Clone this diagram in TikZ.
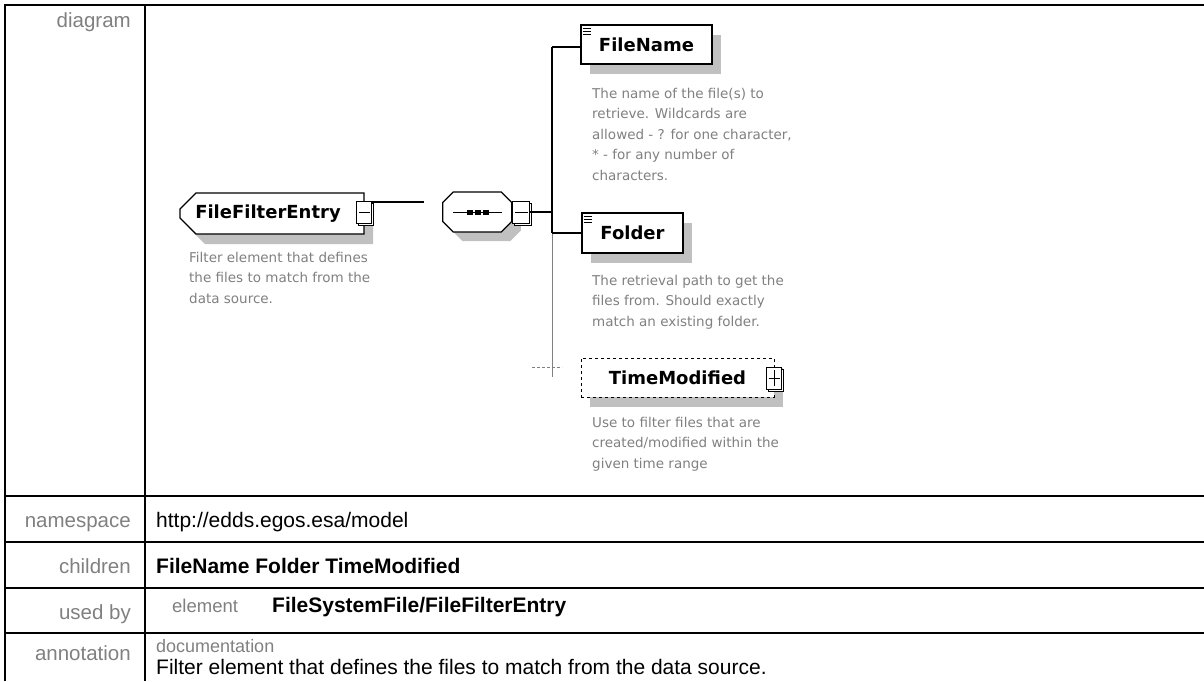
\documentclass[tikz,border=0pt]{standalone}
\usepackage{fontspec}
\setmainfont{Liberation Sans}
\newfontfamily\diafont{DejaVu Sans}
\usetikzlibrary{shapes.misc, shadows}
\definecolor{lblgray}{RGB}{128,128,128}
\definecolor{shdgray}{RGB}{192,192,192}

\tikzset{
	rowlabel/.style={anchor=base east, inner sep=0pt, text=lblgray, font=\fontsize{20.5}{24}\selectfont},
	rowvalue/.style={anchor=base west, inner sep=0pt, font=\fontsize{21}{24}\selectfont},
	elembox/.style={draw, line width=1.3pt, fill=white, inner sep=0pt, font=\diafont\bfseries\fontsize{18}{20}\selectfont, drop shadow={shadow xshift=9pt, shadow yshift=-10pt, fill=shdgray, opacity=1}},
	optbox/.style={elembox, dashed, line width=0.5pt},
	chamf/.style={chamfered rectangle, chamfered rectangle xsep=#1, chamfered rectangle ysep=#1},
	octpath/.style={insert path={-- ++(10.5,10.5) -- ++(48,0) -- ++(10.5,-10.5) -- ++(0,-19) -- ++(-10.5,-10.5) -- ++(-48,0) -- ++(-10.5,10.5) -- cycle}},
	expander/.style={draw, fill=white, line width=1pt, minimum width=15pt, minimum height=22pt, inner sep=0pt, copy shadow={shadow xshift=2pt, shadow yshift=-2pt, line width=1pt}},
	minusexp/.style={expander, path picture={\draw[line width=1pt] ([xshift=2pt]path picture bounding box.west) -- ([xshift=-2pt]path picture bounding box.east);}},
	plusexp/.style={expander, path picture={\draw[line width=1pt] ([xshift=2pt]path picture bounding box.west) -- ([xshift=-2pt]path picture bounding box.east) ([yshift=-3pt]path picture bounding box.north) -- ([yshift=3pt]path picture bounding box.south);}},
	doctext/.style={anchor=north west, align=left, inner sep=0pt, text=lblgray, font=\diafont\fontsize{13.5}{20.5}\selectfont},
}

\begin{document}
\begin{tikzpicture}[x=1pt, y=1pt]
	\useasboundingbox (0,0) rectangle (1204,-681);
	\draw[line width=2pt] (5,-681) |- (1204,-5); \draw[line width=2pt] (145,-5) -- (145,-681);
	\foreach \y in {496,542,588,633} \draw[line width=2pt] (5,-\y) -- (1204,-\y);

	\node[rowlabel] (lbldiag) at (131,-27) {diagram}; \node[rowlabel] (lblns) at (131,-527) {namespace}; \node[rowlabel] (lblch) at (131,-573) {children}; \node[rowlabel] (lblused) at (131,-619) {used by}; \node[rowlabel] (lblann) at (131,-660) {annotation};

	\node[rowvalue] (valns) at (156,-527) {http://edds.egos.esa/model};
	\node[rowvalue, font=\bfseries\fontsize{21}{24}\selectfont] (valch) at (156,-573) {FileName Folder TimeModified};
	\node[rowvalue, text=lblgray, font=\fontsize{18.5}{22}\selectfont] (valusedkind) at (172,-612) {element}; \node[rowvalue, font=\bfseries\fontsize{21}{24}\selectfont] (valused) at (272,-612) {FileSystemFile/FileFilterEntry};
	\node[rowvalue, text=lblgray, font=\fontsize{18}{20}\selectfont] (valdockind) at (156,-652) {documentation};
	\node[rowvalue] (valdoc) at (156,-674) {Filter element that defines the files to match from the data source.};

	% element and its sequence
	\node[elembox, chamf=8pt, chamfered rectangle corners={north west,south west}, minimum width=184pt, minimum height=41pt] (ffe) at (272,-213.5) {FileFilterEntry\hspace*{8pt}};
	\node[minusexp] (ffeexp) at (364,-212.5) {};
	\coordinate (ffeend) at (424,-202); \draw[line width=1.3pt] (ffeexp.east |- ffeend) -- (ffeend);
	\node[doctext] (ffedoc) at (189,-252) {Filter element that defines\\the files to match from the\\data source.};

	\node[minimum width=69pt, minimum height=40pt, inner sep=0pt] (seq) at (477.5,-212) {};
	\fill[shdgray] ([xshift=9pt, yshift=0.5pt]seq.west) [octpath]; \draw[line width=1.3pt, fill=white] ([yshift=9.5pt]seq.west) [octpath];
	\draw[line width=1pt] ([xshift=10pt]seq.west) -- ([xshift=-10pt]seq.east);
	\foreach \dx in {-8,0,8} \fill ([xshift=\dx pt-3pt, yshift=-2.5pt]seq.center) rectangle ++(6,5);
	\node[minusexp, minimum width=17pt] (seqexp) at (521,-212) {};

	\coordinate (trtop) at (552,-47); \coordinate (trmid) at (552,-233); \coordinate (trbot) at (552,-377);
	\draw[line width=1.3pt] (seqexp.east) -- (seqexp.east -| trtop); \draw[line width=1.3pt] (trtop) -- (trmid); \draw[gray, line width=0.6pt] (trmid) -- (trbot);

	% children
	\node[elembox, minimum width=131pt, minimum height=39pt] (fname) at (646.5,-44.5) {FileName};
	\draw[line width=1.3pt] (trtop) -- (trtop -| fname.west);
	\node[doctext] (fnamedoc) at (592,-88) {The name of the file(s) to\\retrieve. Wildcards are\\allowed - ? for one character,\\* - for any number of\\characters.};

	\node[elembox, minimum width=101pt, minimum height=40pt] (folder) at (632.5,-233) {Folder};
	\draw[line width=1.3pt] (trmid) -- (folder.west);
	\node[doctext] (folderdoc) at (592,-275) {The retrieval path to get the\\files from. Should exactly\\match an existing folder.};

	\foreach \n in {fname, folder} \foreach \dy in {4,7,10} \draw[line width=0.8pt] ([xshift=2.5pt, yshift=-\dy pt]\n.north west) -- ++(8,0);

	\node[optbox, minimum width=193pt, minimum height=39pt] (tmod) at (677.5,-377.5) {TimeModified};
	\node[plusexp] (tmodexp) at (774,-378) {};
	\coordinate (crossl) at (532,-367); \coordinate (crossr) at (562,-367); \draw[gray, densely dashed, line width=0.5pt] (crossl) -- (crossr);
	\node[doctext] (tmoddoc) at (592,-417) {Use to filter files that are\\created/modified within the\\given time range};
\end{tikzpicture}
\end{document}
